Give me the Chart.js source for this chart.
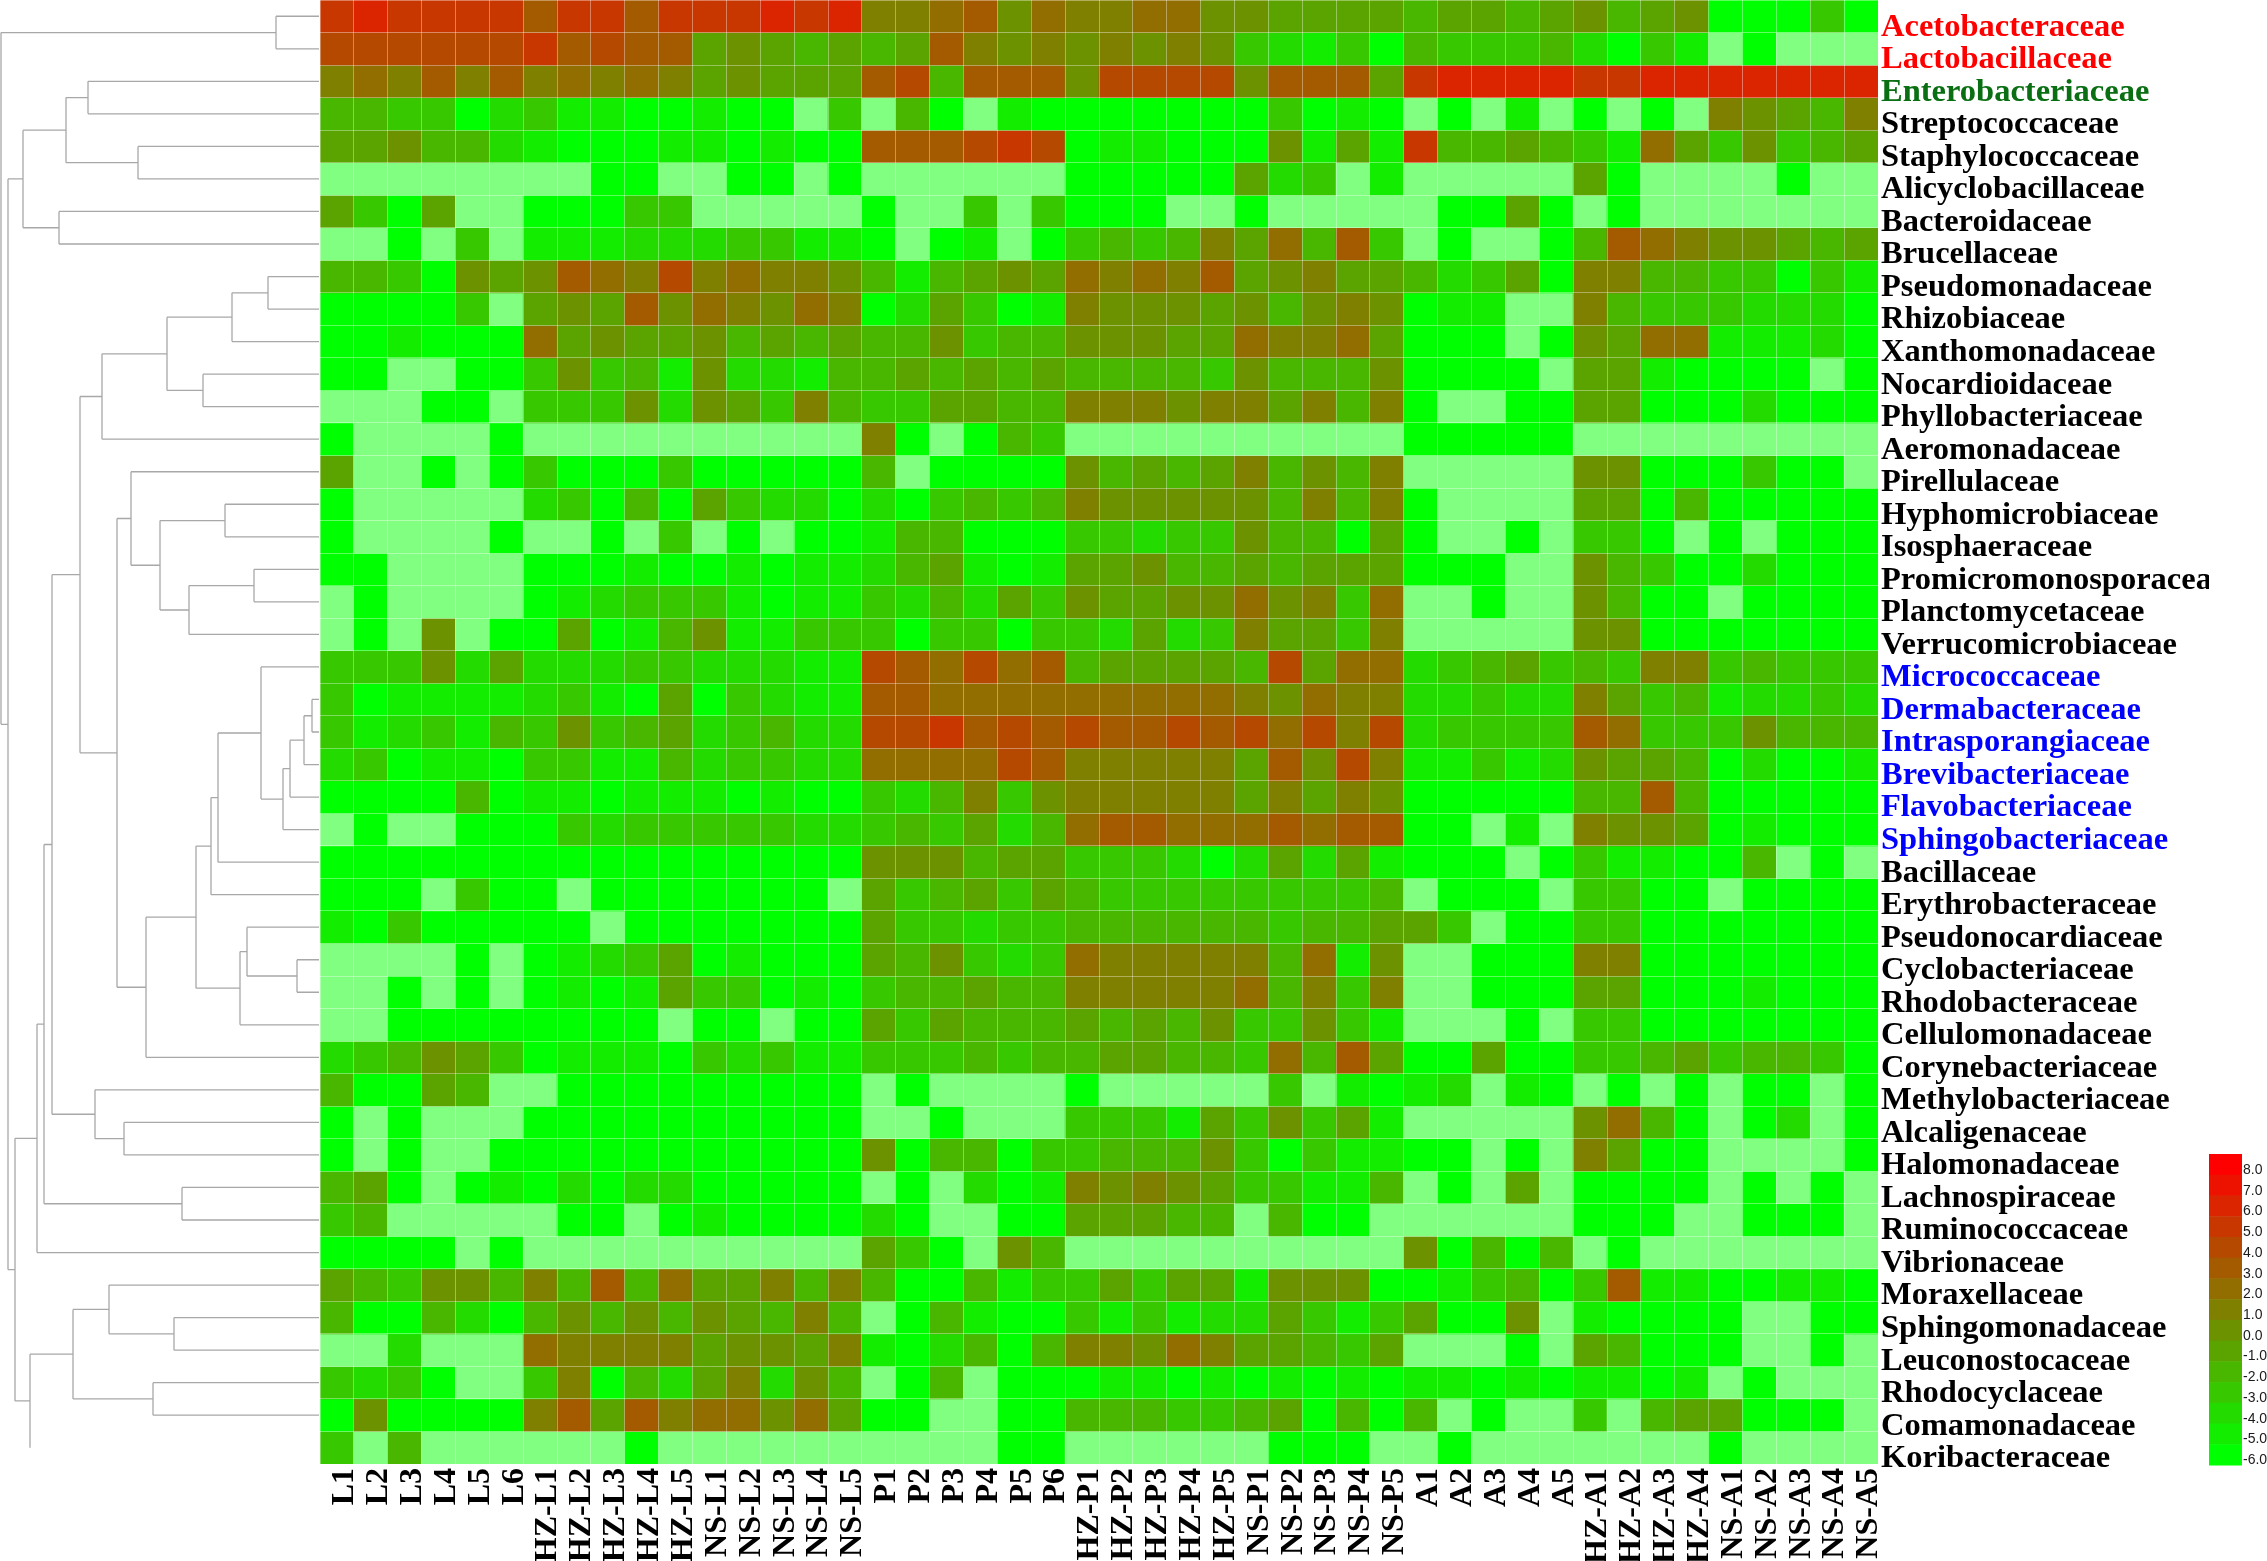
<!DOCTYPE html>
<html>
<head>
<meta charset="utf-8">
<title>Family heatmap</title>
<script src="https://cdn.jsdelivr.net/npm/chart.js@4"></script>
<style>
  html, body { margin: 0; padding: 0; background: #fff; overflow: hidden; }
  canvas { display: block; }
</style>
</head>
<body>
<canvas id="heatmap" width="2267" height="1561"></canvas>
<script>
const NA = null;

const sampleNames = [
  'L1', 'L2', 'L3', 'L4', 'L5', 'L6',
  'HZ-L1', 'HZ-L2', 'HZ-L3', 'HZ-L4', 'HZ-L5',
  'NS-L1', 'NS-L2', 'NS-L3', 'NS-L4', 'NS-L5',
  'P1', 'P2', 'P3', 'P4', 'P5', 'P6',
  'HZ-P1', 'HZ-P2', 'HZ-P3', 'HZ-P4', 'HZ-P5',
  'NS-P1', 'NS-P2', 'NS-P3', 'NS-P4', 'NS-P5',
  'A1', 'A2', 'A3', 'A4', 'A5',
  'HZ-A1', 'HZ-A2', 'HZ-A3', 'HZ-A4',
  'NS-A1', 'NS-A2', 'NS-A3', 'NS-A4', 'NS-A5',
];

const familyNames = [
  'Acetobacteraceae', 'Lactobacillaceae', 'Enterobacteriaceae', 'Streptococcaceae', 'Staphylococcaceae',
  'Alicyclobacillaceae', 'Bacteroidaceae', 'Brucellaceae', 'Pseudomonadaceae', 'Rhizobiaceae',
  'Xanthomonadaceae', 'Nocardioidaceae', 'Phyllobacteriaceae', 'Aeromonadaceae', 'Pirellulaceae',
  'Hyphomicrobiaceae', 'Isosphaeraceae', 'Promicromonosporaceae', 'Planctomycetaceae', 'Verrucomicrobiaceae',
  'Micrococcaceae', 'Dermabacteraceae', 'Intrasporangiaceae', 'Brevibacteriaceae', 'Flavobacteriaceae',
  'Sphingobacteriaceae', 'Bacillaceae', 'Erythrobacteraceae', 'Pseudonocardiaceae', 'Cyclobacteriaceae',
  'Rhodobacteraceae', 'Cellulomonadaceae', 'Corynebacteriaceae', 'Methylobacteriaceae', 'Alcaligenaceae',
  'Halomonadaceae', 'Lachnospiraceae', 'Ruminococcaceae', 'Vibrionaceae', 'Moraxellaceae',
  'Sphingomonadaceae', 'Leuconostocaceae', 'Rhodocyclaceae', 'Comamonadaceae', 'Koribacteraceae',
];

const redFamilies = ['Acetobacteraceae', 'Lactobacillaceae'];
const greenFamilies = ['Enterobacteriaceae'];
const blueFamilies = ['Micrococcaceae', 'Dermabacteraceae', 'Intrasporangiaceae', 'Brevibacteriaceae', 'Flavobacteriaceae', 'Sphingobacteriaceae'];

const legendTicks = [8, 7, 6, 5, 4, 3, 2, 1, 0, -1, -2, -3, -4, -5, -6];

// one row per family, columns in sampleNames order
const acetobacteraceae = [5,6,5,5,5,5, 3,5,5,3,5, 5,5,6,5,6, 1,1,2,3,0,2, 1,1,2,2,0, 0,-1,-1,-1,-1, -2,-1,-1,-2,-1, 0,-2,-1,0, -6,-6,-6,-3,-6];
const lactobacillaceae = [4,4,4,4,4,4, 5,3,4,3,3, -1,0,-1,-2,-1, -2,-1,3,1,0,1, 0,1,0,1,0, -3,-4,-5,-3,-6, -2,-3,-3,-3,-2, -4,-6,-3,-5, NA,-6,NA,NA,NA];
const enterobacteriaceae = [1,2,1,3,1,3, 1,2,1,2,1, -1,0,-1,-1,-1, 3,4,-2,3,3,3, 0,4,4,4,4, 0,3,3,3,-1, 5,6,6,6,6, 5,5,6,6, 6,6,6,6,6];
const streptococcaceae = [-2,-2,-3,-3,-6,-4, -3,-5,-5,-6,-6, -5,-6,-6,NA,-3, NA,-2,-6,NA,-5,-6, -6,-6,-6,-6,-6, -6,-3,-6,-5,-6, NA,-6,NA,-5,NA, -6,NA,-6,NA, 1,0,-1,-2,1];
const staphylococcaceae = [-1,-1,0,-2,-2,-4, -5,-6,-6,-6,-5, -5,-6,-5,-6,-6, 3,3,3,4,5,4, -6,-5,-5,-6,-6, -6,0,-5,-1,-5, 5,-2,-2,-1,-2, -3,-5,2,-1, -3,0,-3,-2,-1];
const alicyclobacillaceae = [NA,NA,NA,NA,NA,NA, NA,NA,-6,-6,NA, NA,-6,-6,NA,-6, NA,NA,NA,NA,NA,NA, -6,-6,-6,-6,-6, -1,-4,-3,NA,-5, NA,NA,NA,NA,NA, -1,-6,NA,NA, NA,NA,-6,NA,NA];
const bacteroidaceae = [-1,-3,-6,-1,NA,NA, -6,-6,-6,-3,-3, NA,NA,NA,NA,NA, -6,NA,NA,-3,NA,-3, -6,-6,-6,NA,NA, -6,NA,NA,NA,NA, NA,-6,-6,-1,-6, NA,-6,NA,NA, NA,NA,NA,NA,NA];
const brucellaceae = [NA,NA,-6,NA,-3,NA, -5,-5,-5,-4,-4, -4,-3,-3,-5,-5, -6,NA,-6,-5,NA,-6, -3,-2,-3,-2,1, -1,2,-2,3,-3, NA,-6,NA,NA,-6, -2,3,2,1, 0,0,-1,-2,-1];
const pseudomonadaceae = [-2,-2,-3,-6,0,-1, 0,3,2,1,4, 1,2,1,1,0, -2,-5,-2,-1,0,-1, 2,1,2,1,3, -1,0,1,-1,-1, -2,-4,-3,-1,-6, 1,1,-2,-2, -3,-3,-6,-3,-5];
const rhizobiaceae = [-6,-6,-6,-6,-3,NA, -1,0,-1,3,0, 2,1,0,2,1, -6,-4,-1,-3,-6,-5, 1,0,0,0,-1, 0,-2,0,1,0, -6,-5,-5,NA,NA, 1,-2,-3,-3, -3,-4,-4,-4,-6];
const xanthomonadaceae = [-6,-6,-5,-6,-6,-6, 2,-1,0,-1,-1, 0,-2,-1,-2,-1, -2,-2,0,-3,-2,-2, 0,0,0,-1,-1, 2,1,1,2,-1, -6,-6,-6,NA,-6, 0,-1,2,2, -5,-5,-5,-4,-6];
const nocardioidaceae = [-6,-6,NA,NA,-6,-6, -3,0,-3,-2,-5, 0,-4,-4,-5,-2, -2,-1,-2,-1,-2,-1, -2,-2,-2,-2,-3, 0,-2,-2,-2,0, -6,-6,-6,-6,NA, -1,-1,-5,-6, -6,-6,-6,NA,-6];
const phyllobacteriaceae = [NA,NA,NA,-6,-6,NA, -3,-3,-3,0,-4, 0,-1,-3,1,-2, -3,-3,-1,-1,-2,-2, 1,1,1,0,1, 1,-1,1,-2,1, -6,NA,NA,-6,-6, -1,-1,-6,-6, -6,-4,-6,-6,-6];
const aeromonadaceae = [-6,NA,NA,NA,NA,-6, NA,NA,NA,NA,NA, NA,NA,NA,NA,NA, 1,-6,NA,-6,-2,-3, NA,NA,NA,NA,NA, NA,NA,NA,NA,NA, -6,-6,-6,-6,-6, NA,NA,NA,NA, NA,NA,NA,NA,NA];
const pirellulaceae = [-1,NA,NA,-6,NA,-6, -3,-6,-6,-6,-3, -6,-6,-6,-6,-6, -2,NA,-6,-6,-6,-6, 0,-2,-1,-2,-1, 1,-2,0,-2,1, NA,NA,NA,NA,NA, 0,0,-6,-6, -6,-3,-6,-6,NA];
const hyphomicrobiaceae = [-6,NA,NA,NA,NA,NA, -4,-3,-6,-2,-6, -1,-3,-4,-4,-6, -4,-6,-3,-2,-3,-2, 1,0,0,0,0, 0,-2,1,-2,1, -6,NA,NA,NA,NA, -1,-1,-6,-2, -6,-6,-6,-6,-6];
const isosphaeraceae = [-6,NA,NA,NA,NA,-6, NA,NA,-6,NA,-3, NA,-6,NA,-6,-6, -5,-2,-2,-6,-6,-6, -3,-3,-4,-3,-3, 0,-2,-2,-6,-1, -6,NA,NA,-6,NA, -3,-3,-6,NA, -6,NA,-6,-6,-6];
const promicromonosporaceae = [-6,-6,NA,NA,NA,NA, -6,-6,-6,-5,-6, -6,-5,-6,-5,-5, -4,-2,-1,-5,-6,-5, -1,-1,0,-2,-2, -1,-2,-1,-1,-1, -6,-6,-6,NA,NA, 0,-2,-3,-6, -6,-4,-6,-6,-6];
const planctomycetaceae = [NA,-6,NA,NA,NA,NA, -6,-5,-4,-3,-3, -3,-5,-6,-5,-5, -3,-4,-2,-4,-1,-3, 0,-1,-1,0,0, 2,0,1,-3,2, NA,NA,-6,NA,NA, 0,-2,-6,-6, NA,-6,-6,-6,-6];
const verrucomicrobiaceae = [NA,-6,NA,0,NA,-6, -6,-1,-6,-5,-2, 0,-5,-5,-3,-3, -3,-6,-3,-3,-6,-3, -3,-4,-1,-4,-3, 1,-1,-1,-3,1, NA,NA,NA,NA,NA, 0,0,-6,-6, -6,-6,-6,-6,-6];
const micrococcaceae = [-3,-3,-3,0,-4,-1, -4,-4,-4,-3,-3, -4,-4,-4,-5,-5, 4,3,2,4,2,3, -2,-1,-1,-1,-1, -2,4,-1,2,2, -4,-3,-2,-1,-3, -2,-3,1,1, -3,-2,-3,-3,-3];
const dermabacteraceae = [-3,-6,-5,-5,-5,-5, -4,-3,-5,-6,-1, -6,-3,-4,-5,-5, 3,3,2,2,2,2, 2,2,2,2,2, 1,0,2,1,1, -4,-4,-3,-4,-4, 1,-1,-3,-2, -5,-4,-4,-3,-4];
const intrasporangiaceae = [-3,-5,-4,-3,-5,-2, -3,0,-3,-2,-1, -4,-3,-2,-4,-4, 4,4,5,3,4,3, 4,3,3,4,3, 4,2,4,1,4, -4,-3,-3,-3,-3, 3,2,-3,-3, -3,0,-2,-2,-2];
const brevibacteriaceae = [-4,-3,-6,-5,-5,-6, -3,-3,-5,-5,-2, -4,-3,-3,-4,-4, 2,2,2,2,4,3, 1,1,1,1,1, -1,3,0,4,1, -5,-5,-3,-5,-4, 0,-1,-1,-2, -6,-4,-6,-6,-5];
const flavobacteriaceae = [-6,-6,-6,-6,-2,-6, -5,-5,-6,-5,-5, -5,-6,-5,-6,-6, -3,-4,-2,1,-3,0, 1,1,1,1,1, -1,1,-1,1,0, -6,-6,-6,-6,-6, -2,-2,3,-2, -6,-6,-6,-6,-6];
const sphingobacteriaceae = [NA,-6,NA,NA,-6,-6, -6,-3,-4,-3,-3, -3,-3,-3,-4,-4, -3,-2,-3,-1,-4,-2, 2,3,3,2,2, 2,3,2,3,3, -6,-6,NA,-5,NA, 1,0,0,-1, -6,-5,-6,-6,-6];
const bacillaceae = [-6,-6,-6,-6,-6,-6, -6,-6,-6,-6,-6, -6,-6,-6,-6,-6, 0,0,0,-2,-1,-1, -3,-3,-3,-4,-6, -4,-1,-4,-1,-5, -6,-6,-6,NA,-6, -3,-5,-5,-6, -6,-2,NA,-6,NA];
const erythrobacteraceae = [-6,-6,-6,NA,-3,-6, -6,NA,-6,-6,-6, -6,-6,-6,-6,NA, -1,-3,-2,-1,-3,-1, -2,-3,-3,-3,-3, -3,-3,-3,-3,-2, NA,-6,-6,-6,NA, -3,-3,-6,-6, NA,-6,-6,-6,-6];
const pseudonocardiaceae = [-5,-6,-3,-6,-6,-6, -6,-6,NA,-6,-6, -6,-6,-6,-6,-6, -1,-3,-3,-4,-3,-3, -2,-2,-2,-2,-2, -2,-3,-2,-2,-1, -1,-3,NA,-6,-6, -3,-3,-6,-6, -6,-6,-6,-6,-6];
const cyclobacteriaceae = [NA,NA,NA,NA,-6,NA, -6,-5,-4,-3,-1, -6,-5,-6,-6,-6, -1,-2,0,-3,-4,-3, 2,1,1,1,1, 1,-2,2,-5,0, NA,NA,-6,-6,-6, 1,1,-6,-6, -6,-6,-6,-6,-6];
const rhodobacteraceae = [NA,NA,-6,NA,-6,NA, -6,-5,-6,-5,-1, -3,-3,-6,-5,-6, -3,-2,-2,-1,-2,-2, 1,1,1,1,1, 2,-2,1,-3,1, NA,NA,-6,-6,-6, -1,-1,-6,-6, -6,-5,-6,-6,-6];
const cellulomonadaceae = [NA,NA,-6,-6,-6,-6, -6,-6,-6,-6,NA, -6,-6,NA,-6,-6, -1,-3,-1,-2,-2, -2, -1,-2,-1,-2,0, -3,-3,0,-3,-5, NA,NA,NA,-6,NA, -3,-3,-6,-6, -6,-6,-6,-6,-6];
const corynebacteriaceae = [-4,-3,-2,0,-1,-3, -6,-5,-5,-5,-6, -3,-4,-3,-5,-5, -3,-3,-3,-2,-3,-2, -2,-1,-1,-2,-2, -3,2,-2,3,-1, -6,-6,-1,-6,-6, -3,-3,-2,-1, -3,-2,-2,-3,-6];
const methylobacteriaceae = [-2,-6,-6,-1,-2,NA, NA,-6,-6,-6,-6, -6,-6,-6,-6,-6, NA,-6,NA,NA,NA,NA, -6,NA,NA,NA,NA, NA,-3,NA,-5,-6, -5,-4,NA,-5,-6, NA,-6,NA,-6, NA,-6,-6,NA,-6];
const alcaligenaceae = [-6,NA,-6,NA,NA,NA, -6,-6,-6,-6,-6, -6,-6,-6,-6,-6, NA,NA,-6,NA,NA,NA, -3,-3,-3,-5,-1, -3,0,-3,-1,-5, NA,NA,NA,NA,NA, 0,2,-2,-6, NA,-6,-4,NA,-6];
const halomonadaceae = [-6,NA,-6,NA,NA,-6, -6,-6,-6,-6,-6, -6,-6,-6,-6,-6, 0,-6,-2,-2,-6,-3, -3,-2,-2,-2,0, -3,-6,-3,-5,-5, -6,-6,NA,-6,NA, 1,-1,-6,-6, NA,NA,NA,NA,-6];
const lachnospiraceae = [-2,-1,-6,NA,-6,-5, -6,-4,-6,-4,-4, -6,-6,-6,-6,-6, NA,-6,NA,-4,-6,-5, 1,0,1,0,-1, -3,-3,-5,-5,-2, NA,-6,NA,-1,NA, -6,-6,-6,-6, NA,-6,NA,-6,NA];
const ruminococcaceae = [-3,-2,NA,NA,NA,NA, NA,-6,-6,NA,-6, -5,-6,-6,-6,-6, -4,-6,NA,NA,-6,-6, -1,-1,-1,-2,-2, NA,-2,-6,-6,NA, NA,NA,NA,NA,NA, -6,-6,-6,NA, NA,-6,-6,-6,NA];
const vibrionaceae = [-6,-6,-6,-6,NA,-6, NA,NA,NA,NA,NA, NA,NA,NA,NA,NA, -1,-3,-6,NA,0,-2, NA,NA,NA,NA,NA, NA,NA,NA,NA,NA, 0,-6,-2,-6,-2, NA,-6,NA,NA, NA,NA,NA,NA,NA];
const moraxellaceae = [-1,-2,-3,0,0,-2, 1,-2,3,-2,2, -1,-1,1,-2,1, -2,-6,-6,-2,-5,-3, -3,-1,-3,-1,-1, -5,0,0,0,-6, -6,-5,-3,-2,-6, -3,3,-5,-5, -6,-6,-5,-5,-6];
const sphingomonadaceae = [-2,-6,-6,-2,-4,-6, -2,0,-2,0,-2, 0,-1,-2,1,-2, NA,-6,-2,-5,-6,-6, -3,-5,-3,-5,-4, -4,-1,-3,-5,-3, -1,-6,-6,0,NA, -5,-6,-6,-6, -6,NA,NA,-6,-6];
const leuconostocaceae = [NA,NA,-4,NA,NA,NA, 2,1,1,1,1, -1,0,0,-1,1, -5,-6,-4,-2,-6,-2, 1,1,0,2,1, -1,-1,-2,-3,-1, NA,NA,NA,-6,NA, -1,-2,-6,-6, -6,NA,NA,-6,NA];
const rhodocyclaceae = [-3,-4,-3,-6,NA,NA, -3,1,-6,-2,-4, -1,1,-4,0,-2, NA,-6,-2,NA,-6,-6, -6,-5,-5,-6,-5, -6,-5,-6,-5,-6, -5,-5,-6,-5,-6, -5,-5,-6,-5, NA,-6,NA,NA,NA];
const comamonadaceae = [-6,0,-6,-6,-6,-6, 1,3,-1,3,1, 2,2,0,2,-1, -6,-6,NA,NA,-6,-6, -2,-2,-2,-3,-3, -2,-1,-6,-2,-6, -2,NA,-6,NA,NA, -3,NA,-2,-1, -1,-6,-6,-6,NA];
const koribacteraceae = [-3,NA,-2,NA,NA,NA, NA,NA,NA,-6,NA, NA,NA,NA,NA,NA, NA,NA,NA,NA,-6,-6, NA,NA,NA,NA,NA, NA,-6,-6,-6,NA, NA,-6,NA,NA,NA, NA,NA,NA,NA, -6,NA,NA,NA,NA];

const familyRows = [
  acetobacteraceae, lactobacillaceae, enterobacteriaceae, streptococcaceae, staphylococcaceae,
  alicyclobacillaceae, bacteroidaceae, brucellaceae, pseudomonadaceae, rhizobiaceae,
  xanthomonadaceae, nocardioidaceae, phyllobacteriaceae, aeromonadaceae, pirellulaceae,
  hyphomicrobiaceae, isosphaeraceae, promicromonosporaceae, planctomycetaceae, verrucomicrobiaceae,
  micrococcaceae, dermabacteraceae, intrasporangiaceae, brevibacteriaceae, flavobacteriaceae,
  sphingobacteriaceae, bacillaceae, erythrobacteraceae, pseudonocardiaceae, cyclobacteriaceae,
  rhodobacteraceae, cellulomonadaceae, corynebacteriaceae, methylobacteriaceae, alcaligenaceae,
  halomonadaceae, lachnospiraceae, ruminococcaceae, vibrionaceae, moraxellaceae,
  sphingomonadaceae, leuconostocaceae, rhodocyclaceae, comamonadaceae, koribacteraceae,
];

// row clustering: [distance, childA, childB], a plain number is a row index
const rowTree = [318,
  [43, 0, 1],
  [311,
    [296,
      [253, [231, 2, 3], [181, 4, 5]],
      [260, 6, 7]],
    [304,
      [282,
        [275,
          [267,
            [239,
              [217, [152, [87, [51, 8, 9], 10], [116, 11, 12]], 13],
              [202,
                [188, 14, [159, [94, 15, 16], [130, [65, 17, 18], 19]]],
                [173,
                  [123,
                    [108, [101, [58, 20, [36, [29, [15, [7, 21, 22], 23], 24], 25]], 26], 27],
                    [79, [72, 28, [22, 29, 30]], 31]],
                  32]]],
            [224, 33, [195, 34, 35]]],
          [137, 36, 37]],
        38],
      [289,
        [246, [210, 39, [145, 40, 41]], [166, 42, 43]],
        44]]]];

// the reference has no leaf line for its last row
const rowWithoutLeafLine = 44;

function cellColor(value) {
  if (value === NA) return '#80ff80';
  const t = (value + 6) / 14;
  return `rgb(${Math.round(255 * t)},${Math.round(255 * (1 - t))},0)`;
}

function familyColor(name) {
  if (redFamilies.includes(name)) return '#ff0000';
  if (greenFamilies.includes(name)) return '#0a6e12';
  if (blueFamilies.includes(name)) return '#0000ff';
  return '#000000';
}

const dendrogramPlugin = {
  id: 'dendrogram',
  afterDraw(chart) {
    const ctx = chart.ctx;
    const yScale = chart.scales.y;
    const leafX = chart.chartArea.left - 1;

    function drawNode(node) {
      if (typeof node === 'number') {
        return { x: leafX, y: yScale.getPixelForValue(node + 0.5), row: node };
      }
      const a = drawNode(node[1]);
      const b = drawNode(node[2]);
      const x = leafX - node[0];
      ctx.beginPath();
      [a, b].forEach((child) => {
        if (child.row === rowWithoutLeafLine) return;
        ctx.moveTo(child.x, child.y);
        ctx.lineTo(x, child.y);
      });
      ctx.moveTo(x, a.y);
      ctx.lineTo(x, b.y);
      ctx.stroke();
      return { x, y: (a.y + b.y) / 2 };
    }

    ctx.save();
    ctx.strokeStyle = '#a8a8a8';
    ctx.lineWidth = 1.3;
    drawNode(rowTree);
    ctx.restore();
  },
};

const colorBarPlugin = {
  id: 'colorBar',
  afterDraw(chart) {
    const ctx = chart.ctx;
    const left = 2209;
    const barWidth = 33;
    const top = 1154;
    const step = 311 / legendTicks.length;
    ctx.save();
    // the longest row label is cut off at the colour bar's left edge
    ctx.fillStyle = '#ffffff';
    ctx.fillRect(left, 0, chart.width - left, top);
    ctx.font = '14px "Liberation Sans"';
    ctx.textAlign = 'left';
    ctx.textBaseline = 'middle';
    legendTicks.forEach((tick, i) => {
      ctx.fillStyle = cellColor(tick);
      ctx.fillRect(left, top + i * step, barWidth, step + 0.5);
      ctx.fillStyle = '#1a1a1a';
      ctx.fillText(tick.toFixed(1), left + barWidth + 1, top + 16 + i * step);
    });
    ctx.restore();
  },
};

new Chart(document.getElementById('heatmap').getContext('2d'), {
  type: 'bar',
  data: {
    labels: sampleNames,
    datasets: familyNames.map((name, rowIndex) => ({
      label: name,
      data: sampleNames.map(() => [rowIndex, rowIndex + 1]),
      backgroundColor: familyRows[rowIndex].map(cellColor),
      yAxisID: 'y',
      grouped: false,
      barPercentage: 1,
      categoryPercentage: 1,
    })),
  },
  options: {
    responsive: false,
    animation: false,
    layout: { padding: { left: 320 }, autoPadding: false },
    plugins: { legend: { display: false }, tooltip: { enabled: false } },
    scales: {
      x: {
        position: 'bottom',
        offset: true,
        afterFit(scale) {
          scale.height = 97;
          scale.paddingLeft = 0;
          scale.paddingRight = 0;
        },
        border: { display: false },
        grid: { offset: true, z: 1, color: 'rgba(255,255,255,0.36)', drawTicks: false },
        ticks: {
          autoSkip: false,
          minRotation: 90,
          maxRotation: 90,
          padding: 4,
          labelOffset: 8,
          color: '#000000',
          font: { family: '"Liberation Serif"', size: 32, weight: 'bold' },
        },
      },
      y: {
        position: 'right',
        reverse: true,
        min: 0,
        max: familyNames.length,
        afterBuildTicks(scale) {
          scale.ticks = familyNames.map((_, i) => ({ value: i + 0.5 }));
        },
        afterFit(scale) {
          scale.width = 389;
          scale.paddingTop = 0;
          scale.paddingBottom = 0;
        },
        border: { display: false },
        grid: { display: false, drawTicks: false },
        ticks: {
          autoSkip: false,
          padding: 3,
          labelOffset: 11,
          callback: (value) => familyNames[Math.floor(value)],
          color: (ctx) => familyColor(familyNames[ctx.index]),
          font: { family: '"Liberation Serif"', size: 32.5, weight: 'bold' },
        },
      },
      // only here to put a grid line on every row edge
      rowEdges: {
        position: 'left',
        reverse: true,
        min: 0,
        max: familyNames.length,
        afterFit(scale) { scale.width = 0; },
        border: { display: false },
        grid: { z: 1, color: 'rgba(255,255,255,0.36)', drawTicks: false },
        ticks: { display: false, stepSize: 1, autoSkip: false },
      },
    },
  },
  plugins: [dendrogramPlugin, colorBarPlugin],
});
</script>
</body>
</html>
